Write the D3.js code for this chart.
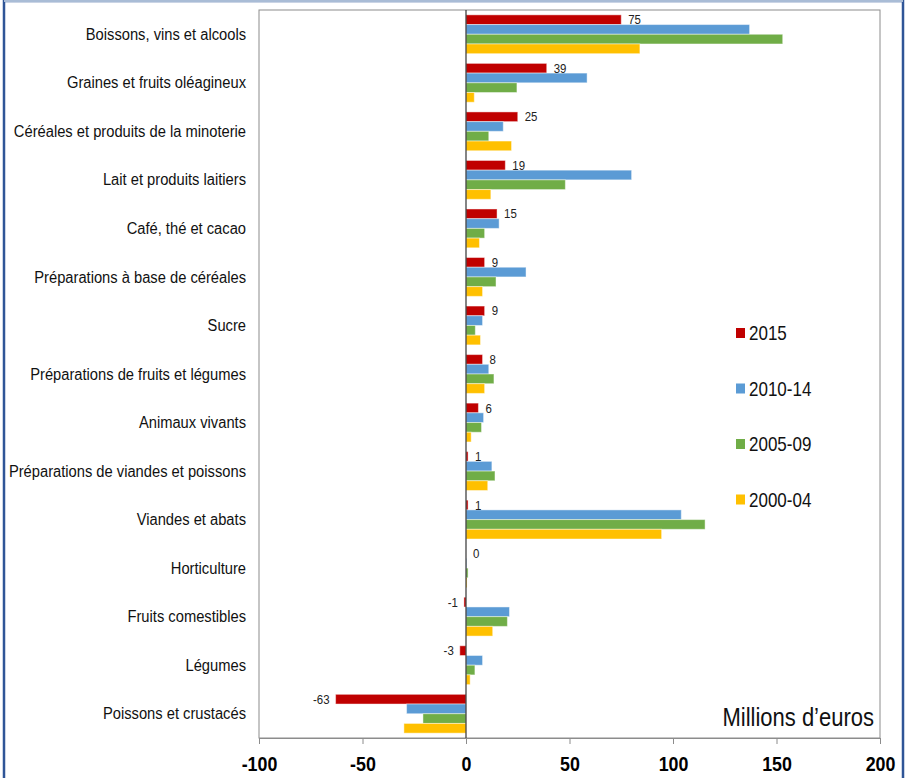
<!DOCTYPE html>
<html><head><meta charset="utf-8">
<script src="https://cdn.jsdelivr.net/npm/d3@7"></script>
<style>
html,body{margin:0;padding:0;background:#fff;}
svg text{font-family:"Liberation Sans",Arial,sans-serif;}
</style></head>
<body>
<svg id="chart" width="912" height="778"></svg>
<script>
const categories = ["Boissons, vins et alcools","Graines et fruits oléagineux","Céréales et produits de la minoterie","Lait et produits laitiers","Café, thé et cacao","Préparations à base de céréales","Sucre","Préparations de fruits et légumes","Animaux vivants","Préparations de viandes et poissons","Viandes et abats","Horticulture","Fruits comestibles","Légumes","Poissons et crustacés"];
const seriesNames = ["2015","2010-14","2005-09","2000-04"];
const seriesColors = ["#C00000","#5B9BD5","#70AD47","#FFC000"];
const v2015   = [75, 39, 25, 19, 15, 9, 9, 8, 6, 1, 1, 0, -1, -3, -63];
const v201014 = [137, 58.5, 18, 80, 16, 29, 8, 11, 8.5, 12.5, 104, 0.3, 21, 8, -28.7];
const v200509 = [153, 24.6, 11, 48, 9, 14.5, 4.5, 13.5, 7.5, 14, 115.5, 1, 20, 4.3, -20.8];
const v200004 = [84, 4, 22, 12, 6.5, 8, 7, 9, 2.5, 10.5, 94.5, 0.5, 12.9, 2, -30];
const xTicks = [-100, -50, 0, 50, 100, 150, 200];
const unitLabel = "Millions d’euros";

const series = [v2015, v201014, v200509, v200004];
const svg = d3.select("#chart");

// outer frame
svg.append("rect").attr("x",4).attr("y",1).attr("width",899).attr("height",800)
  .attr("fill","none").attr("stroke","#2F5597").attr("stroke-width",2.5);
svg.append("line").attr("x1",4).attr("x2",903).attr("y1",1).attr("y2",1)
  .attr("stroke","#A9BCD6").attr("stroke-width",2);

const L=259, R=880, T=10, B=738;
const x = d3.scaleLinear().domain([-100,200]).range([L,R]);
const y = d3.scaleBand().domain(categories).range([T,B]).paddingInner(0.2).paddingOuter(0.1);
const ySub = d3.scaleBand().domain(d3.range(4)).range([0,y.bandwidth()]);

// plot frame
svg.append("rect").attr("x",L).attr("y",T).attr("width",R-L).attr("height",B-T)
  .attr("fill","none").attr("stroke","#8C8C8C").attr("stroke-width",1);

// bars
series.forEach((vals,si)=>{
  svg.append("g").selectAll("rect").data(vals).join("rect")
    .attr("x",d=>x(Math.min(0,d)))
    .attr("width",d=>Math.abs(x(d)-x(0)))
    .attr("y",(d,i)=>y(categories[i])+ySub(si))
    .attr("height",ySub.bandwidth())
    .attr("fill",seriesColors[si])
    .attr("stroke","rgba(255,255,255,0.45)").attr("stroke-width",1);
});

// value labels for 2015 (condensed)
svg.append("g").selectAll("text").data(v2015).join("text")
  .attr("transform",(d,i)=>`translate(${d<0? x(d)-6 : x(d)+7},${y(categories[i])+ySub(0)+ySub.bandwidth()/2}) scale(0.88,1)`)
  .attr("dy","0.35em")
  .attr("text-anchor",d=>d<0?"end":"start")
  .attr("font-size",13).attr("fill","#222")
  .text(d=>String(d));

// zero line
svg.append("line").attr("x1",x(0)).attr("x2",x(0)).attr("y1",T).attr("y2",B)
  .attr("stroke","#333").attr("stroke-width",1.2);

// x axis
const xAxis = d3.axisBottom(x).tickValues(xTicks).tickSize(6).tickFormat(d=>String(d));
const gx = svg.append("g").attr("transform",`translate(0,${B})`).call(xAxis);
gx.select(".domain").attr("stroke","#8C8C8C");
gx.selectAll(".tick line").attr("stroke","#8C8C8C");
gx.selectAll(".tick text").attr("font-size",21).attr("font-weight","bold").attr("fill","#000")
  .attr("dy","0.36em").attr("y",0)
  .attr("transform","translate(0,25) scale(0.85,1)")
  .style("font-family","'Liberation Sans',Arial,sans-serif");

// category labels (condensed)
svg.append("g").selectAll("text").data(categories).join("text")
  .attr("transform",d=>`translate(246,${y(d)+y.bandwidth()/2}) scale(0.92,1)`)
  .attr("dy","0.35em").attr("text-anchor","end")
  .attr("font-size",16).attr("fill","#111").text(d=>d);

// legend
const lg = svg.append("g");
seriesNames.forEach((n,i)=>{
  const cy = 333 + i*55.5;
  lg.append("rect").attr("x",736).attr("y",cy-5).attr("width",9).attr("height",10).attr("fill",seriesColors[i]);
  lg.append("text").attr("transform",`translate(749,${cy}) scale(0.85,1)`).attr("dy","0.36em")
    .attr("font-size",20).attr("fill","#111").text(n);
});

// unit label
svg.append("text").attr("transform","translate(874,717) scale(0.88,1)").attr("dy","0.36em").attr("text-anchor","end")
  .attr("font-size",25).attr("fill","#111").text(unitLabel);
</script>
</body></html>
